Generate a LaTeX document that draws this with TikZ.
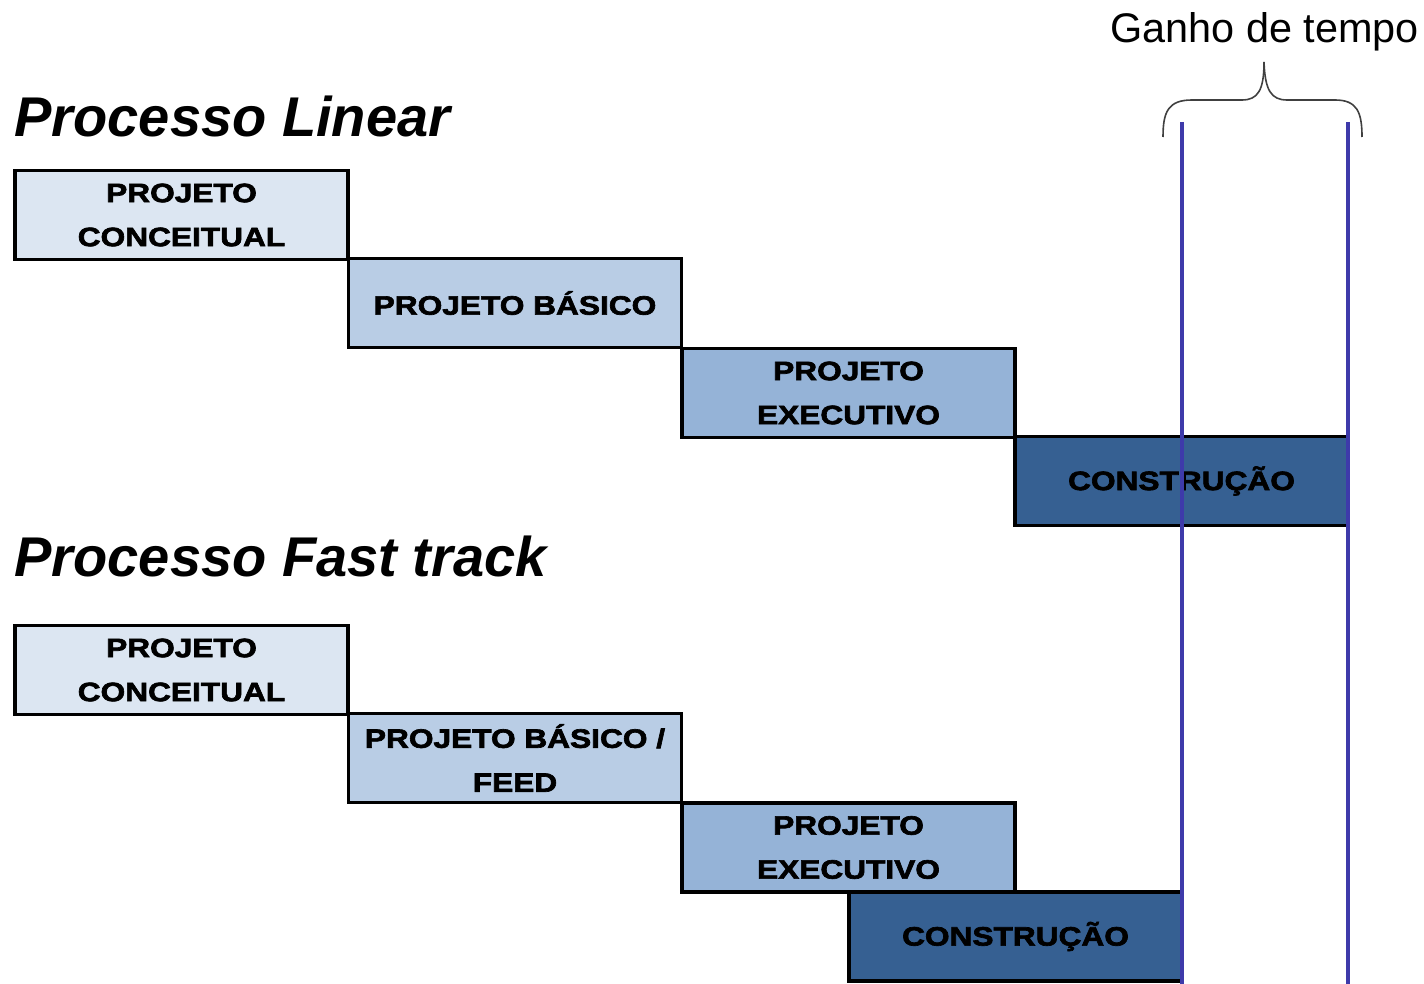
\documentclass[tikz,border=0pt]{standalone}
\usepackage{fontspec}
\setmainfont{Liberation Sans}
\newfontfamily\stagefont[FakeStretch=1.19,FakeBold=2.5]{Liberation Sans Bold}
\definecolor{toneA}{HTML}{DCE6F2}
\definecolor{toneB}{HTML}{B9CDE5}
\definecolor{toneC}{HTML}{95B3D7}
\definecolor{toneD}{HTML}{366092}
\definecolor{gainline}{RGB}{62,58,170}
\definecolor{bracegray}{HTML}{404040}
\begin{document}
\begin{tikzpicture}[x=0.5pt,y=-0.5pt,
  stage/.style={draw=black, line width=1.6pt, minimum width=166.5pt,
    minimum height=44.5pt, inner sep=0pt, align=center,
    font=\stagefont\fontsize{13.3}{22}\selectfont},
  sA/.style={stage, fill=toneA},
  sB/.style={stage, fill=toneB},
  sC/.style={stage, fill=toneC},
  sD/.style={stage, fill=toneD},
  heading/.style={anchor=base west, inner sep=0pt,
    font=\bfseries\itshape\fontsize{28}{30}\selectfont},
  gainlabel/.style={anchor=base west, inner sep=0pt,
    font=\fontsize{20.7}{24}\selectfont},
  marker/.style={draw=gainline, line width=2pt},
  bracket/.style={draw=bracegray, line width=0.8pt}
]
\useasboundingbox (0,0) rectangle (1424,984);

% headings
\node[heading] (linear) at (14,137) {Processo Linear};
\node[heading] (fast) at (14,576) {Processo Fast track};
\node[gainlabel] (gain) at (1110,43) {Ganho de tempo};

% linear sequence
\node[sA] (l1) at (181.5,215) {PROJETO\\CONCEITUAL};
\node[sB] (l2) at (515,303) {PROJETO BÁSICO};
\node[sC] (l3) at (848.5,393) {PROJETO\\EXECUTIVO};
\node[sD] (l4) at (1181.5,481) {CONSTRUÇÃO};

% fast track sequence
\node[sA] (f1) at (181.5,670) {PROJETO\\CONCEITUAL};
\node[sB] (f2) at (515,758) {PROJETO BÁSICO /\\FEED};
\node[sC] (f3) at (848.5,847.5) {PROJETO\\EXECUTIVO};
\node[sD] (f4) at (1015.5,936.5) {CONSTRUÇÃO};

% end-of-construction markers
\coordinate (m1top) at (1182,122);
\coordinate (m1bot) at (1182,984);
\coordinate (m2top) at (1348,122);
\coordinate (m2bot) at (1348,984);
\draw[marker] (m1top) -- (m1bot);
\draw[marker] (m2top) -- (m2bot);

% brace over the time gained
\draw[bracket] (1163,137) .. controls (1163,112) and (1168,100) .. (1192,100)
  -- (1242,100) .. controls (1258,100) and (1264,90) .. (1264,62);
\draw[bracket] (1362,137) .. controls (1362,112) and (1357,100) .. (1335,100)
  -- (1287,100) .. controls (1271,100) and (1265,90) .. (1264,62);
\end{tikzpicture}
\end{document}
